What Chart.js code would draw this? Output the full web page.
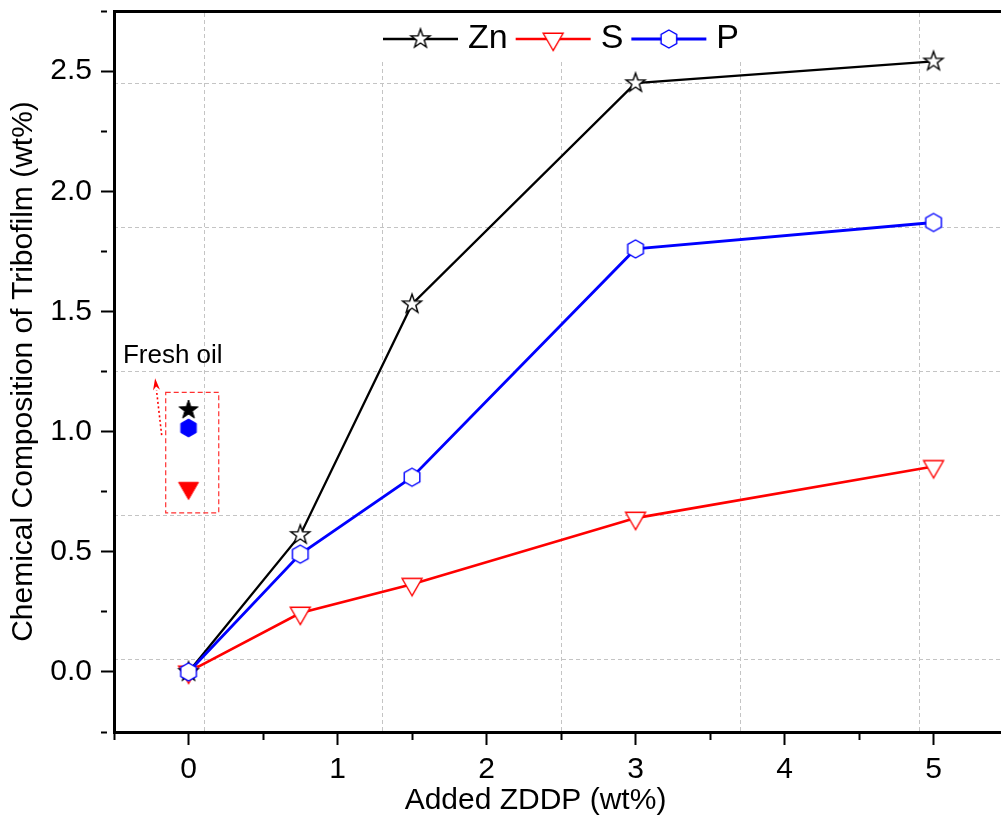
<!DOCTYPE html>
<html>
<head>
<meta charset="utf-8">
<script src="https://cdn.jsdelivr.net/npm/chart.js@4.4.1/dist/chart.umd.min.js"></script>
<style>
  html, body { margin: 0; padding: 0; background: #fff; }
  #wrap { width: 1001px; height: 820px; }
</style>
</head>
<body>
<div id="wrap"><canvas id="c" width="1001" height="820"></canvas></div>
<script>
/* ---- data ---- */
var xValues = [0, 0.75, 1.5, 3, 5];
var znValues = [0, 0.57, 1.53, 2.45, 2.54];
var sValues = [0, 0.245, 0.365, 0.64, 0.855];
var pValues = [0, 0.49, 0.81, 1.76, 1.87];
var seriesNames = ["Zn", "S", "P"];

var freshOilX = 0;
var freshZn = 1.09;
var freshS = 0.765;
var freshP = 1.015;

var xMajorTicks = [0, 1, 2, 3, 4, 5];
var xTickLabels = ["0", "1", "2", "3", "4", "5"];
var yMajorTicks = [0, 0.5, 1, 1.5, 2, 2.5];
var yTickLabels = ["0.0", "0.5", "1.0", "1.5", "2.0", "2.5"];

/* the dashed grid in the figure sits off the tick positions */
var gridXValues = [0.105, 1.305, 2.505, 3.705, 4.905];
var gridYValues = [0.05, 0.65, 1.25, 1.85, 2.45];

var X_MIN = -0.5, X_MAX = 5.453, Y_MIN = -0.25, Y_MAX = 2.75;
var FONT = '"Liberation Sans", Arial, sans-serif';

/* ---- marker images (open / filled star, down triangle, hexagon) ---- */
function makeMarker(shape, stroke, fill, lw) {
  var size = 30, c = document.createElement("canvas");
  c.width = size; c.height = size;
  var g = c.getContext("2d"), cx = size / 2, cy = size / 2, k, a, r;
  g.beginPath();
  if (shape === "star") {
    for (k = 0; k < 10; k++) {
      a = -Math.PI / 2 + k * Math.PI / 5;
      r = k % 2 ? 4 : 10;
      g.lineTo(cx + r * Math.cos(a), cy + r * Math.sin(a));
    }
  } else if (shape === "hex") {
    for (k = 0; k < 6; k++) {
      a = -Math.PI / 2 + k * Math.PI / 3;
      g.lineTo(cx + 9 * Math.cos(a), cy + 9 * Math.sin(a));
    }
  } else {
    for (k = 0; k < 3; k++) {
      a = Math.PI / 2 + k * 2 * Math.PI / 3;
      g.lineTo(cx + 11.5 * Math.cos(a), cy + 11.5 * Math.sin(a));
    }
  }
  g.closePath();
  g.fillStyle = fill;
  g.fill();
  g.lineWidth = lw;
  g.strokeStyle = stroke;
  g.stroke();
  return c;
}

var starOpen = makeMarker("star", "#000", "#fff", 1.4);
var triOpen = makeMarker("tri", "#ff0000", "#fff", 1.4);
var hexOpen = makeMarker("hex", "#0000ff", "#fff", 1.4);
var starFill = makeMarker("star", "#000", "#000", 1);
var triFill = makeMarker("tri", "#ff0000", "#ff0000", 1);
var hexFill = makeMarker("hex", "#0000ff", "#0000ff", 1);

function pts(ys) {
  return xValues.map(function (x, i) { return { x: x, y: ys[i] }; });
}

/* ---- annotation: fresh oil box, arrow, label ---- */
var note = {
  box: { x0: -0.153, x1: 0.203, y0: 1.163, y1: 0.662 },
  arrow: { x0: -0.18, y0: 0.985, x1: -0.224, y1: 1.222 },
  text: { x: -0.44, y: 1.284, label: "Fresh oil" }
};

var annotationPlugin = {
  id: "freshOil",
  beforeDatasetsDraw: function (chart) {
    var ctx = chart.ctx, xs = chart.scales.x, ys = chart.scales.y;
    var bx0 = xs.getPixelForValue(note.box.x0), bx1 = xs.getPixelForValue(note.box.x1);
    var by0 = ys.getPixelForValue(note.box.y0), by1 = ys.getPixelForValue(note.box.y1);
    ctx.save();
    ctx.strokeStyle = "#ff3030";
    ctx.lineWidth = 1.2;
    ctx.setLineDash([5, 3]);
    ctx.strokeRect(bx0, by0, bx1 - bx0, by1 - by0);

    var ax0 = xs.getPixelForValue(note.arrow.x0), ay0 = ys.getPixelForValue(note.arrow.y0);
    var ax1 = xs.getPixelForValue(note.arrow.x1), ay1 = ys.getPixelForValue(note.arrow.y1);
    var ang = Math.atan2(ay1 - ay0, ax1 - ax0), hl = 12, hw = 3.5;
    ctx.strokeStyle = "#ff0000";
    ctx.lineWidth = 1.6;
    ctx.setLineDash([2, 2.5]);
    ctx.beginPath();
    ctx.moveTo(ax0, ay0);
    ctx.lineTo(ax1 - hl * Math.cos(ang), ay1 - hl * Math.sin(ang));
    ctx.stroke();
    ctx.setLineDash([]);
    ctx.fillStyle = "#ff0000";
    ctx.beginPath();
    ctx.moveTo(ax1, ay1);
    ctx.lineTo(ax1 - hl * Math.cos(ang) + hw * Math.sin(ang), ay1 - hl * Math.sin(ang) - hw * Math.cos(ang));
    ctx.lineTo(ax1 - hl * 0.7 * Math.cos(ang), ay1 - hl * 0.7 * Math.sin(ang));
    ctx.lineTo(ax1 - hl * Math.cos(ang) - hw * Math.sin(ang), ay1 - hl * Math.sin(ang) + hw * Math.cos(ang));
    ctx.closePath();
    ctx.fill();

    ctx.fillStyle = "#000";
    ctx.font = "26px " + FONT;
    ctx.textAlign = "left";
    ctx.textBaseline = "alphabetic";
    ctx.fillText(note.text.label, xs.getPixelForValue(note.text.x), ys.getPixelForValue(note.text.y));
    ctx.restore();
  }
};

/* ---- in-plot legend on a white patch, plus the x title ---- */
var legendPlugin = {
  id: "plotLegend",
  afterDatasetsDraw: function (chart) {
    var ctx = chart.ctx, area = chart.chartArea;
    var x = area.left + 269, y = area.top + 28, lineLen = 75;
    ctx.save();
    ctx.font = "34px " + FONT;
    ctx.fillStyle = "#fff";
    ctx.fillRect(x - 12, area.top + 2, 392, 49);
    chart.data.datasets.forEach(function (ds) {
      if (!ds.inLegend) return;
      ctx.strokeStyle = ds.borderColor;
      ctx.lineWidth = ds.borderWidth;
      ctx.beginPath();
      ctx.moveTo(x, y);
      ctx.lineTo(x + lineLen, y);
      ctx.stroke();
      var img = ds.pointStyle;
      ctx.drawImage(img, x + lineLen / 2 - img.width / 2, y - img.height / 2);
      x += lineLen + 10;
      ctx.fillStyle = "#000";
      ctx.textAlign = "left";
      ctx.textBaseline = "middle";
      ctx.fillText(ds.label, x, y);
      x += ctx.measureText(ds.label).width + 8;
    });
    ctx.restore();
  },
  afterDraw: function (chart) {
    var ctx = chart.ctx, area = chart.chartArea;
    ctx.save();
    ctx.font = "30px " + FONT;
    ctx.fillStyle = "#000";
    ctx.textAlign = "center";
    ctx.textBaseline = "middle";
    ctx.fillText("Added ZDDP (wt%)", (area.left + area.right) / 2 - 22, area.bottom + 69);
    ctx.restore();
  }
};

Chart.defaults.font.family = FONT;
Chart.defaults.color = "#000";

function isMajor(list, v) {
  return list.some(function (m) { return Math.abs(m - v) < 1e-6; });
}
function labelFor(list, labels, v) {
  for (var i = 0; i < list.length; i++) if (Math.abs(list[i] - v) < 1e-6) return labels[i];
  return "";
}
function noPadding(s) {
  s.paddingTop = 0; s.paddingBottom = 0; s.paddingLeft = 0; s.paddingRight = 0;
}

var gridStyle = { color: "#c4c4c4", lineWidth: 1, drawTicks: false };

new Chart(document.getElementById("c"), {
  type: "line",
  data: {
    datasets: [
      { label: seriesNames[0], data: pts(znValues), borderColor: "#000", borderWidth: 2.3,
        pointStyle: starOpen, pointRadius: 6, order: 1, inLegend: true },
      { label: seriesNames[1], data: pts(sValues), borderColor: "#ff0000", borderWidth: 2.6,
        pointStyle: triOpen, pointRadius: 6, order: 2, inLegend: true },
      { label: seriesNames[2], data: pts(pValues), borderColor: "#0000ff", borderWidth: 2.8,
        pointStyle: hexOpen, pointRadius: 6, order: 0, inLegend: true },
      { label: "Zn fresh", data: [{ x: freshOilX, y: freshZn }], showLine: false,
        borderColor: "#000", pointStyle: starFill, pointRadius: 6 },
      { label: "S fresh", data: [{ x: freshOilX, y: freshS }], showLine: false,
        borderColor: "#ff0000", pointStyle: triFill, pointRadius: 6 },
      { label: "P fresh", data: [{ x: freshOilX, y: freshP }], showLine: false,
        borderColor: "#0000ff", pointStyle: hexFill, pointRadius: 6 }
    ]
  },
  options: {
    responsive: false,
    devicePixelRatio: 1,
    animation: false,
    events: [],
    layout: { autoPadding: false, padding: { top: 11, left: 0, right: 0, bottom: 0 } },
    elements: { line: { tension: 0 } },
    plugins: { legend: { display: false }, tooltip: { enabled: false } },
    scales: {
      x: {
        type: "linear", position: "bottom", min: X_MIN, max: X_MAX,
        afterFit: function (s) { s.height = 88; noPadding(s); },
        ticks: {
          stepSize: 0.5, includeBounds: false, autoSkip: false, maxRotation: 0,
          padding: 7, font: { size: 30 }, color: "#000",
          callback: function (v) { return labelFor(xMajorTicks, xTickLabels, v); }
        },
        grid: {
          drawOnChartArea: false, tickLength: 13, tickWidth: 2, tickColor: "#000",
          tickBorderDash: function (c) { return c.tick && isMajor(xMajorTicks, c.tick.value) ? [] : [6, 100]; }
        },
        border: { color: "#000", width: 3 }
      },
      y: {
        type: "linear", position: "left", min: Y_MIN, max: Y_MAX,
        afterFit: function (s) { s.width = 114; noPadding(s); },
        ticks: {
          stepSize: 0.25, includeBounds: false, autoSkip: false,
          padding: 9, font: { size: 30 }, color: "#000",
          callback: function (v) { return labelFor(yMajorTicks, yTickLabels, v); }
        },
        grid: {
          drawOnChartArea: false, tickLength: 13, tickWidth: 2, tickColor: "#000",
          tickBorderDash: function (c) { return c.tick && isMajor(yMajorTicks, c.tick.value) ? [] : [6, 100]; }
        },
        border: { color: "#000", width: 3 },
        title: {
          display: true, text: "Chemical Composition of Tribofilm (wt%)",
          font: { size: 30 }, color: "#000", padding: { top: 6, bottom: 0 }
        }
      },
      xg: {
        type: "linear", position: "top", min: X_MIN, max: X_MAX,
        afterBuildTicks: function (s) { s.ticks = gridXValues.map(function (v) { return { value: v }; }); },
        afterFit: noPadding,
        ticks: { display: false },
        grid: gridStyle,
        border: { display: true, color: "#000", width: 3, dash: [4, 3] }
      },
      yg: {
        type: "linear", position: "right", min: Y_MIN, max: Y_MAX,
        afterBuildTicks: function (s) { s.ticks = gridYValues.map(function (v) { return { value: v }; }); },
        afterFit: noPadding,
        ticks: { display: false },
        grid: gridStyle,
        border: { display: false, dash: [4, 3] }
      }
    }
  },
  plugins: [annotationPlugin, legendPlugin]
});
</script>
</body>
</html>
